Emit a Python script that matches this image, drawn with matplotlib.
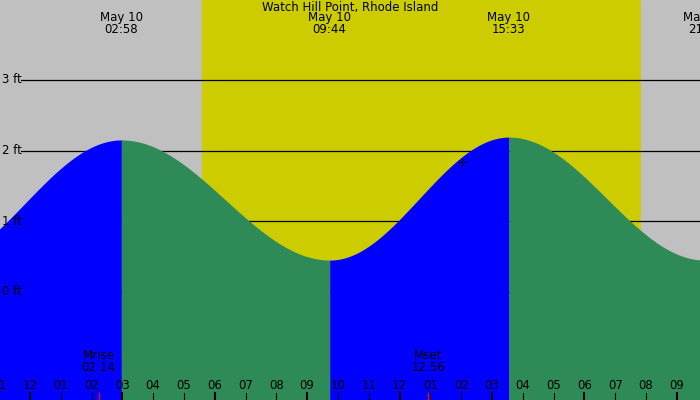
import numpy as np
import matplotlib
matplotlib.use("Agg")
import matplotlib.pyplot as plt

# tide extremes: hours from midnight May 10, height in ft
ext_t = [-3.3, 2.97, 9.73, 15.55, 21.9]
ext_h = [0.35, 2.15, 0.45, 2.19, 0.45]
ext_lbl = ["", "02:58", "09:44", "15:33", "21:54"]
sunrise, sunset = 5.58, 19.84
moon_t = [2.23, 12.93]
moon_lbl = ["Mrise\n02:14", "Mset\n12:56"]
hour_lbls = ["11", "12", "01", "02", "03", "04", "05", "06", "07", "08", "09",
             "10", "11", "12", "01", "02", "03", "04", "05", "06", "07", "08", "09"]

x0, x1 = -0.97, 21.75
y0, y1 = -1.53, 4.13

fig = plt.figure(figsize=(7, 4), dpi=100)
ax = fig.add_axes([0, 0, 1, 1])
ax.set_xlim(x0, x1)
ax.set_ylim(y0, y1)
ax.axis("off")

ax.axvspan(x0, sunrise, color="#c0c0c0", zorder=0)
ax.axvspan(sunrise, sunset, color="#cccc00", zorder=0)
ax.axvspan(sunset, x1, color="#c0c0c0", zorder=0)

for ft in range(0, 4):
    ax.plot([x0 + 0.68, x1], [ft, ft], color="black", lw=0.9, zorder=1)

# curve between extremes, cosine shape
for i in range(len(ext_t) - 1):
    ta, tb = ext_t[i], ext_t[i + 1]
    ha, hb = ext_h[i], ext_h[i + 1]
    t = np.linspace(ta, tb, 200)
    h = ha + (hb - ha) * (1 - np.cos(np.pi * (t - ta) / (tb - ta))) / 2
    col = "#0000ff" if hb > ha else "#2e8b57"
    ax.fill_between(t, y0, h, color=col, lw=0, zorder=2)

fs = 8.5
for ft in range(0, 4):
    ax.text(x0 + 0.05, ft, "%d ft" % ft, fontsize=fs, va="center", ha="left", zorder=5)

for t, lbl in zip(ext_t[1:], ext_lbl[1:]):
    ax.text(t, y1 - 0.16, "May 10\n" + lbl, fontsize=fs, ha="center", va="top",
            linespacing=0.9, zorder=5)
ax.text(10.39, y1 - 0.02, "Watch Hill Point, Rhode Island", fontsize=fs,
        ha="center", va="top", zorder=5)

for t, lbl in zip(moon_t, moon_lbl):
    ax.text(t, y0 + 0.37, lbl, fontsize=fs, ha="center", va="bottom",
            linespacing=0.9, zorder=5)
    ax.plot([t, t], [y0, y0 + 0.1], color="red", lw=1, zorder=5)

for i, lbl in enumerate(hour_lbls):
    t = i - 1
    ax.text(t, y0 + 0.2, lbl, fontsize=fs, ha="center", va="center", zorder=5)
    ax.plot([t, t], [y0, y0 + 0.1], color="black", lw=1.5 if t % 3 == 0 else 0.8, zorder=5)

ax.plot(14.03, 1.84, marker="+", color="black", ms=6, mew=0.8, zorder=5)

fig.savefig("out.png", dpi=100)
